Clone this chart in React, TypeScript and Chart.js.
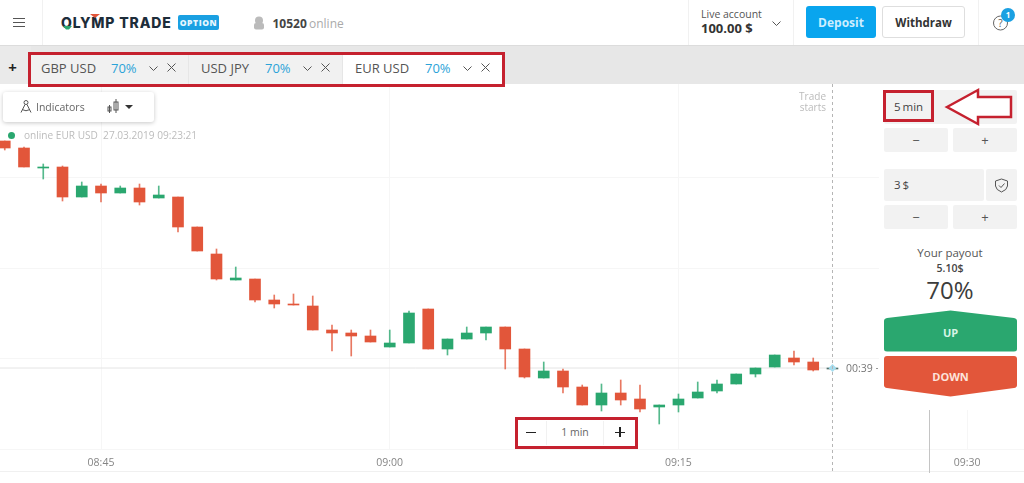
import React, { useEffect, useRef } from 'react';
import Chart from 'chart.js/auto';

const times = [
  '08:40', '08:41', '08:42', '08:43', '08:44', '08:45', '08:46', '08:47', '08:48', '08:49', '08:50',
  '08:51', '08:52', '08:53', '08:54', '08:55', '08:56', '08:57', '08:58', '08:59', '09:00', '09:01',
  '09:02', '09:03', '09:04', '09:05', '09:06', '09:07', '09:08', '09:09', '09:10', '09:11', '09:12',
  '09:13', '09:14', '09:15', '09:16', '09:17', '09:18', '09:19', '09:20', '09:21', '09:22', '09:23',
];
const opens = [
  1.12989, 1.12982, 1.12962, 1.12963, 1.12933, 1.12944, 1.12937, 1.12942, 1.12932, 1.12933, 1.12903,
  1.12876, 1.1285, 1.12851, 1.1283, 1.12826, 1.12824, 1.128, 1.12797, 1.12794, 1.12783, 1.12787,
  1.12821, 1.12781, 1.12791, 1.12797, 1.12803, 1.12781, 1.12752, 1.12759, 1.12743, 1.12725, 1.12737,
  1.12731, 1.12723, 1.12725, 1.12732, 1.12739, 1.12746, 1.12756, 1.12763, 1.12772, 1.12768, 1.12761,
];
const closes = [
  1.12982, 1.12963, 1.12963, 1.12933, 1.12944, 1.12937, 1.12942, 1.12928, 1.12935, 1.12903, 1.12879,
  1.12851, 1.12852, 1.1283, 1.12826, 1.12825, 1.128, 1.12797, 1.12794, 1.12788, 1.12787, 1.12817,
  1.12781, 1.12791, 1.12797, 1.12803, 1.12781, 1.12753, 1.12759, 1.12743, 1.12725, 1.12737, 1.1273,
  1.12721, 1.12725, 1.12731, 1.12738, 1.12746, 1.12756, 1.12762, 1.12775, 1.12768, 1.1276, 1.12762,
];
const highs = [
  1.12989, 1.12983, 1.12966, 1.12964, 1.12948, 1.12946, 1.12944, 1.12946, 1.12944, 1.12933, 1.12903,
  1.12881, 1.12863, 1.12851, 1.12835, 1.12836, 1.12834, 1.12805, 1.128, 1.128, 1.128, 1.12819,
  1.12821, 1.12791, 1.12803, 1.12803, 1.12803, 1.12781, 1.12768, 1.12761, 1.12745, 1.12746, 1.1275,
  1.12745, 1.12725, 1.12736, 1.12748, 1.1275, 1.12756, 1.12762, 1.12775, 1.12779, 1.12772, 1.12762,
];
const lows = [
  1.1298, 1.12963, 1.12951, 1.12929, 1.12933, 1.12928, 1.12937, 1.12925, 1.12932, 1.12898, 1.12879,
  1.1285, 1.1285, 1.12828, 1.12822, 1.12825, 1.128, 1.12779, 1.12774, 1.12788, 1.12783, 1.12787,
  1.12781, 1.12775, 1.12791, 1.1279, 1.12761, 1.12752, 1.12752, 1.12737, 1.12725, 1.12719, 1.12725,
  1.12718, 1.12706, 1.12718, 1.12732, 1.12737, 1.12746, 1.12753, 1.12763, 1.12765, 1.12759, 1.12761,
];
const timeTicks = ['08:45', '09:00', '09:15', '09:30'];
const priceGrid = [1.12953, 1.12862, 1.12772, 1.12681];
const expiryTime = '09:28';

const GREEN = '#2aa76f';
const RED = '#e2563a';
const FONT = '"Open Sans", sans-serif';

const toMinutes = (t: string) => {
  const [h, m] = t.split(':').map(Number);
  return h * 60 + m;
};
const toLabel = (v: number) => {
  const m = v % 60;
  return `${String(Math.floor(v / 60)).padStart(2, '0')}:${String(m).padStart(2, '0')}`;
};

const minutes = times.map(toMinutes);
const lastIndex = times.length - 1;
const candleColors = times.map((_, i) => {
  if (i === lastIndex) return '#4f6f6a';
  return closes[i] >= opens[i] ? GREEN : RED;
});

// dashed "trade starts" line, expiry line and the bottom rule
const markersPlugin = {
  id: 'markers',
  afterDatasetsDraw(chart: any) {
    const { ctx, scales, chartArea, height } = chart;
    ctx.save();
    ctx.lineWidth = 1;
    ctx.strokeStyle = '#f0f0f0';
    ctx.beginPath();
    ctx.moveTo(0, height - 1.5);
    ctx.lineTo(chart.width, height - 1.5);
    ctx.stroke();
    const startX = Math.round(scales.x.getPixelForValue(minutes[lastIndex])) + 0.5;
    ctx.strokeStyle = '#b5b5b5';
    ctx.setLineDash([3, 3]);
    ctx.beginPath();
    ctx.moveTo(startX, chartArea.top);
    ctx.lineTo(startX, height);
    ctx.stroke();
    ctx.setLineDash([]);
    const endX = Math.round(scales.x.getPixelForValue(toMinutes(expiryTime))) + 0.5;
    ctx.strokeStyle = '#c4c4c4';
    ctx.beginPath();
    ctx.moveTo(endX, scales.y.getPixelForValue(closes[lastIndex]) + 42);
    ctx.lineTo(endX, height);
    ctx.stroke();
    ctx.restore();
  },
};

const CandleChart: React.FC = () => {
  const chartRef = useRef<HTMLCanvasElement | null>(null);

  useEffect(() => {
    if (!chartRef.current) return;
    const last = closes[lastIndex];
    const chart = new Chart(chartRef.current, {
      type: 'bar',
      plugins: [markersPlugin],
      data: {
        datasets: [
          {
            type: 'line',
            label: 'Current marker',
            data: [{ x: minutes[lastIndex], y: last }],
            showLine: false,
            pointStyle: 'rectRot',
            pointRadius: 4,
            pointBackgroundColor: '#a6def0',
            pointBorderWidth: 0,
            order: 0,
          },
          {
            label: 'Body',
            data: minutes.map((x, i) => ({ x, y: [opens[i], closes[i]] })),
            backgroundColor: candleColors,
            barThickness: 11,
            grouped: false,
            order: 1,
          },
          {
            label: 'Wick',
            data: minutes.map((x, i) => ({ x, y: [lows[i], highs[i]] })),
            backgroundColor: candleColors.map(c => c + 'cc'),
            barThickness: 1,
            grouped: false,
            order: 2,
          },
          {
            type: 'line',
            label: 'Price line',
            data: [{ x: minutes[0] - 1, y: last }, { x: minutes[lastIndex], y: last }],
            borderColor: '#e4e4e4',
            borderWidth: 1,
            pointRadius: 0,
            order: 3,
          },
        ] as any,
      },
      options: {
        responsive: false,
        animation: false,
        layout: { padding: 0, autoPadding: false },
        plugins: { legend: { display: false }, tooltip: { enabled: false } },
        scales: {
          x: {
            type: 'linear',
            min: 519.753,
            max: 572.95,
            offset: false,
            afterBuildTicks: (axis: any) => {
              axis.ticks = timeTicks.map(t => ({ value: toMinutes(t) }));
            },
            afterFit: (axis: any) => {
              axis.height = 24;
              axis.paddingLeft = 0;
              axis.paddingRight = 0;
            },
            ticks: {
              autoSkip: false,
              maxRotation: 0,
              padding: 8,
              color: '#858585',
              font: { family: FONT, size: 10.5 },
              callback: (value: string | number) => toLabel(Number(value)),
            },
            grid: { color: '#f6f6f6', drawTicks: false, offset: false },
            border: { display: false },
          },
          y: {
            min: 1.12681,
            max: 1.13046,
            afterBuildTicks: (axis: any) => {
              axis.ticks = priceGrid.map(value => ({ value }));
            },
            afterFit: (axis: any) => {
              axis.width = 0;
              axis.paddingTop = 0;
              axis.paddingBottom = 0;
            },
            ticks: { display: false },
            grid: { color: '#f6f6f6', drawTicks: false },
            border: { display: false },
          },
        },
      } as any,
    });
    return () => chart.destroy();
  }, []);

  return (
    <canvas
      ref={chartRef}
      width={1024}
      height={389}
      style={{ position: 'absolute', left: 0, top: 84, width: 1024, height: 389 }}
    />
  );
};

const Box: React.FC<{ x: number; y: number; w: number; h: number; style?: React.CSSProperties; children?: React.ReactNode }> = ({ x, y, w, h, style, children }) => (
  <div style={{ position: 'absolute', left: x, top: y, width: w, height: h, boxSizing: 'border-box', ...style }}>{children}</div>
);

// text placed by its left edge (or centre) and vertical middle
const Label: React.FC<{ x: number; y: number; size: number; color: string; weight?: number; center?: boolean; right?: boolean; style?: React.CSSProperties; children: React.ReactNode }> = ({ x, y, size, color, weight = 400, center, right, style, children }) => (
  <div
    style={{
      position: 'absolute',
      left: x,
      top: y,
      transform: `translate(${center ? '-50%' : right ? '-100%' : '0'}, -50%)`,
      fontFamily: FONT,
      fontSize: size,
      fontWeight: weight,
      color,
      whiteSpace: 'nowrap',
      lineHeight: 1,
      ...style,
    }}
  >
    {children}
  </div>
);

const RedRect: React.FC<{ x: number; y: number; w: number; h: number }> = ({ x, y, w, h }) => (
  <Box x={x} y={y} w={w} h={h} style={{ border: '3px solid #c5212f' }} />
);

const Chevron: React.FC<{ x: number; y: number; w?: number; color?: string }> = ({ x, y, w = 9, color = '#555' }) => (
  <svg style={{ position: 'absolute', left: x, top: y }} width={w} height={w / 2 + 2}>
    <path d={`M0.5 0.5 L${w / 2} ${w / 2} L${w - 0.5} 0.5`} fill="none" stroke={color} strokeWidth={1} />
  </svg>
);

const Cross: React.FC<{ x: number; y: number }> = ({ x, y }) => (
  <svg style={{ position: 'absolute', left: x, top: y }} width={9} height={9}>
    <path d="M0.5 0.5 L8.5 8.5 M8.5 0.5 L0.5 8.5" stroke="#555" strokeWidth={1} />
  </svg>
);

const Tab: React.FC<{ x: number; w: number; name: string; active?: boolean; pctX: number; chevX: number; crossX: number; nameX: number }> = ({ x, w, name, active, pctX, chevX, crossX, nameX }) => (
  <>
    <Box x={x} y={52} w={w} h={32} style={{ background: active ? '#fff' : '#f1f1f1', borderRight: active ? 'none' : '1px solid #e6e6e6' }} />
    <Label x={nameX} y={68} size={13} color="#555" weight={500}>{name}</Label>
    <Label x={pctX} y={68} size={13} color="#2ba3d8" weight={500}>70%</Label>
    <Chevron x={chevX} y={66} />
    <Cross x={crossX} y={63} />
  </>
);

const StepButtons: React.FC<{ y: number }> = ({ y }) => (
  <>
    <Box x={884} y={y} w={64} h={24} style={{ background: '#f2f2f2', borderRadius: 2 }} />
    <Box x={953} y={y} w={64} h={24} style={{ background: '#f2f2f2', borderRadius: 2 }} />
    <Label x={916} y={y + 11.5} size={13} color="#555" center>−</Label>
    <Label x={985} y={y + 11.5} size={13} color="#555" center>+</Label>
  </>
);

const Header: React.FC = () => (
  <>
    <Box x={0} y={0} w={1024} h={46} style={{ background: '#fff', borderBottom: '1px solid #dcdcdc' }} />
    {[18, 22, 26].map(y => <Box key={y} x={13} y={y - 0.5} w={12} h={1} style={{ background: '#555' }} />)}
    <Box x={42} y={0} w={1} h={45} style={{ background: '#f1f1f1' }} />
    <Label x={61} y={23} size={14} color="#1d2d3a" weight={800} style={{ fontFamily: 'Inter, sans-serif', letterSpacing: 0.85 }}>OLYMP TRADE</Label>
    <svg style={{ position: 'absolute', left: 90, top: 14 }} width={10} height={5}><path d="M0 0 L10 0 L5 4 Z" fill="#e2563a" /></svg>
    <svg style={{ position: 'absolute', left: 63, top: 26 }} width={9} height={4}><path d="M0 0 L9 0 L6 3.5 L3 3.5 Z" fill={GREEN} /></svg>
    <Box x={178} y={15} w={41} h={15} style={{ background: '#1aa0e2', borderRadius: 2 }} />
    <Label x={198.5} y={22.5} size={8.5} color="#e8f7ff" weight={800} center style={{ letterSpacing: 0.6 }}>OPTION</Label>
    <svg style={{ position: 'absolute', left: 252, top: 16 }} width={14} height={14}>
      <circle cx={7} cy={4.5} r={4} fill="#bbb" />
      <rect x={2} y={7} width={10} height={6.5} rx={2} fill="#bbb" />
    </svg>
    <Label x={272.5} y={23.5} size={12} color="#444" weight={700}>10520</Label>
    <Label x={309} y={23.5} size={12} color="#aaa">online</Label>

    <Box x={688} y={0} w={1} h={45} style={{ background: '#f1f1f1' }} />
    <Box x={793} y={0} w={1} h={45} style={{ background: '#f1f1f1' }} />
    <Box x={978} y={0} w={1} h={45} style={{ background: '#f1f1f1' }} />
    <Label x={701} y={14} size={10.5} color="#555">Live account</Label>
    <Label x={701} y={28} size={13} color="#333" weight={700}>100.00 $</Label>
    <Chevron x={772} y={21} />
    <Box x={806} y={6} w={70} h={32} style={{ background: '#09a5ee', borderRadius: 3 }} />
    <Label x={841} y={22.5} size={12} color="#cdeeff" weight={700} center>Deposit</Label>
    <Box x={882} y={6} w={83} h={32} style={{ background: '#fff', border: '1px solid #dedede', borderRadius: 3 }} />
    <Label x={923.5} y={22.5} size={11.5} color="#333" weight={700} center>Withdraw</Label>
    <svg style={{ position: 'absolute', left: 992, top: 8 }} width={26} height={24}>
      <circle cx={8.5} cy={15} r={7} fill="#fff" stroke="#666" />
      <text x={8.5} y={19} textAnchor="middle" fontSize={10} fontFamily={FONT} fill="#555">?</text>
      <circle cx={16} cy={7} r={7} fill="#1aa0e2" />
      <text x={16} y={10} textAnchor="middle" fontSize={8} fontWeight={700} fontFamily={FONT} fill="#fff">1</text>
    </svg>
  </>
);

const TabBar: React.FC = () => (
  <>
    <Box x={0} y={46} w={1024} h={38} style={{ background: '#e7e7e7' }} />
    <Box x={0} y={46} w={31} h={38} style={{ background: '#eaeaea' }} />
    <Label x={12.5} y={67} size={15} color="#222" weight={700} center>+</Label>
    <Tab x={31} w={158} nameX={41} name="GBP USD" pctX={111} chevX={149} crossX={167} />
    <Tab x={189} w={154} nameX={201} name="USD JPY" pctX={265} chevX={303} crossX={321} />
    <Tab x={343} w={161} nameX={355} name="EUR USD" active pctX={425} chevX={463} crossX={481} />
    <RedRect x={28} y={52} w={477} h={35} />
  </>
);

const ChartOverlay: React.FC = () => (
  <>
    <Box x={3} y={92} w={151} h={30} style={{ background: '#fff', borderRadius: 3, boxShadow: '0 1px 4px rgba(0,0,0,0.22)' }} />
    <svg style={{ position: 'absolute', left: 20, top: 100 }} width={12} height={14}>
      <circle cx={6} cy={2.5} r={2} fill="none" stroke="#555" />
      <path d="M5 4.5 L1 12.5 M7 4.5 L11 12.5 M2 9.5 Q6 12 10 9.5" fill="none" stroke="#555" />
    </svg>
    <Label x={36} y={107} size={10.5} color="#666">Indicators</Label>
    <svg style={{ position: 'absolute', left: 107, top: 99 }} width={12} height={15}>
      <rect x={1} y={8} width={3} height={4} fill="none" stroke="#555" />
      <rect x={7} y={3} width={4} height={8} fill="none" stroke="#555" />
      <path d="M2.5 6 V14 M9 0 V14" stroke="#555" />
    </svg>
    <svg style={{ position: 'absolute', left: 125, top: 105 }} width={9} height={5}><path d="M0 0 L8 0 L4 4 Z" fill="#333" /></svg>

    <Box x={8} y={132} w={7} h={7} style={{ background: GREEN, borderRadius: '50%' }} />
    <Label x={24} y={135} size={10.1} color="#bcbcbc">online EUR USD&nbsp; 27.03.2019 09:23:21</Label>

    <Label x={826} y={96} size={10} color="#bbb" right>Trade</Label>
    <Label x={826} y={107} size={10} color="#bbb" right>starts</Label>

    <Label x={846} y={368} size={10.5} color="#777">00:39</Label>
    <Box x={876} y={368} w={2} h={1} style={{ background: '#999' }} />

    <Box x={515} y={417} w={123} h={32} style={{ background: '#fff' }} />
    <Box x={546} y={421} w={1} h={24} style={{ background: '#f1f1f1' }} />
    <Box x={603} y={421} w={1} h={24} style={{ background: '#f1f1f1' }} />
    <Box x={526} y={431.5} w={10} h={1.5} style={{ background: '#222' }} />
    <Box x={615} y={431.5} w={10} h={1.5} style={{ background: '#222' }} />
    <Box x={619.25} y={427} w={1.5} h={10} style={{ background: '#222' }} />
    <Label x={575} y={432} size={10.5} color="#666" center>1 min</Label>
    <RedRect x={515} y={417} w={123} h={32} />
  </>
);

const SidePanel: React.FC = () => (
  <>
    <Box x={879} y={84} w={145} h={326} style={{ background: '#fff' }} />
    <Box x={884} y={90} w={133} h={34} style={{ background: '#f2f2f2', borderRadius: 2 }} />
    <Label x={894} y={107} size={11.5} color="#444">5{'\u2009'}min</Label>
    <RedRect x={883} y={90} w={51} h={32} />
    <svg style={{ position: 'absolute', left: 944, top: 87 }} width={70} height={40}>
      <path d="M3 20 L34 3 L34 10 L67 10 L67 30 L34 30 L34 37 Z" fill="#fff" stroke="#c5212f" strokeWidth={2.5} />
    </svg>
    <StepButtons y={128} />
    <Box x={884} y={169} w={100} h={32} style={{ background: '#f2f2f2', borderRadius: 2 }} />
    <Box x={986} y={169} w={31} h={32} style={{ background: '#f2f2f2', borderRadius: 2 }} />
    <Label x={894} y={185} size={11.5} color="#444">3{'\u2009'}$</Label>
    <svg style={{ position: 'absolute', left: 994, top: 178 }} width={15} height={15}>
      <path d="M7.5 1 L13.5 3 V8 Q13 12 7.5 14 Q2 12 1.5 8 V3 Z M5 7.5 L7 9.5 L10.5 5.5" fill="none" stroke="#555" />
    </svg>
    <StepButtons y={205} />

    <Label x={950} y={253} size={11.5} color="#555" center>Your payout</Label>
    <Label x={950} y={268} size={10.5} color="#444" weight={600} center>5.10$</Label>
    <Label x={950} y={290} size={24} color="#3c3c3c" center>70%</Label>

    <svg style={{ position: 'absolute', left: 884, top: 310 }} width={133} height={87}>
      <path d="M66.5 0.5 L130 8 Q133 8.5 133 11 V39 Q133 41.5 130 41.5 H3 Q0 41.5 0 39 V11 Q0 8.5 3 8 Z" fill={GREEN} />
      <path d="M3 46 H130 Q133 46 133 49 V75 Q133 77.5 130 78 L66.5 86.5 L3 78 Q0 77.5 0 75 V49 Q0 46 3 46 Z" fill={RED} />
    </svg>
    <Label x={950.5} y={332} size={11} color="#d6f5e6" weight={700} center>UP</Label>
    <Label x={950.5} y={376} size={11} color="#fde3db" weight={700} center>DOWN</Label>
  </>
);

export default function App() {
  useEffect(() => {
    document.body.style.margin = '0';
  }, []);

  return (
    <div style={{ position: 'relative', width: 1024, height: 483, overflow: 'hidden', background: '#fff' }}>
      <CandleChart />
      <Header />
      <TabBar />
      <SidePanel />
      <ChartOverlay />
    </div>
  );
}
